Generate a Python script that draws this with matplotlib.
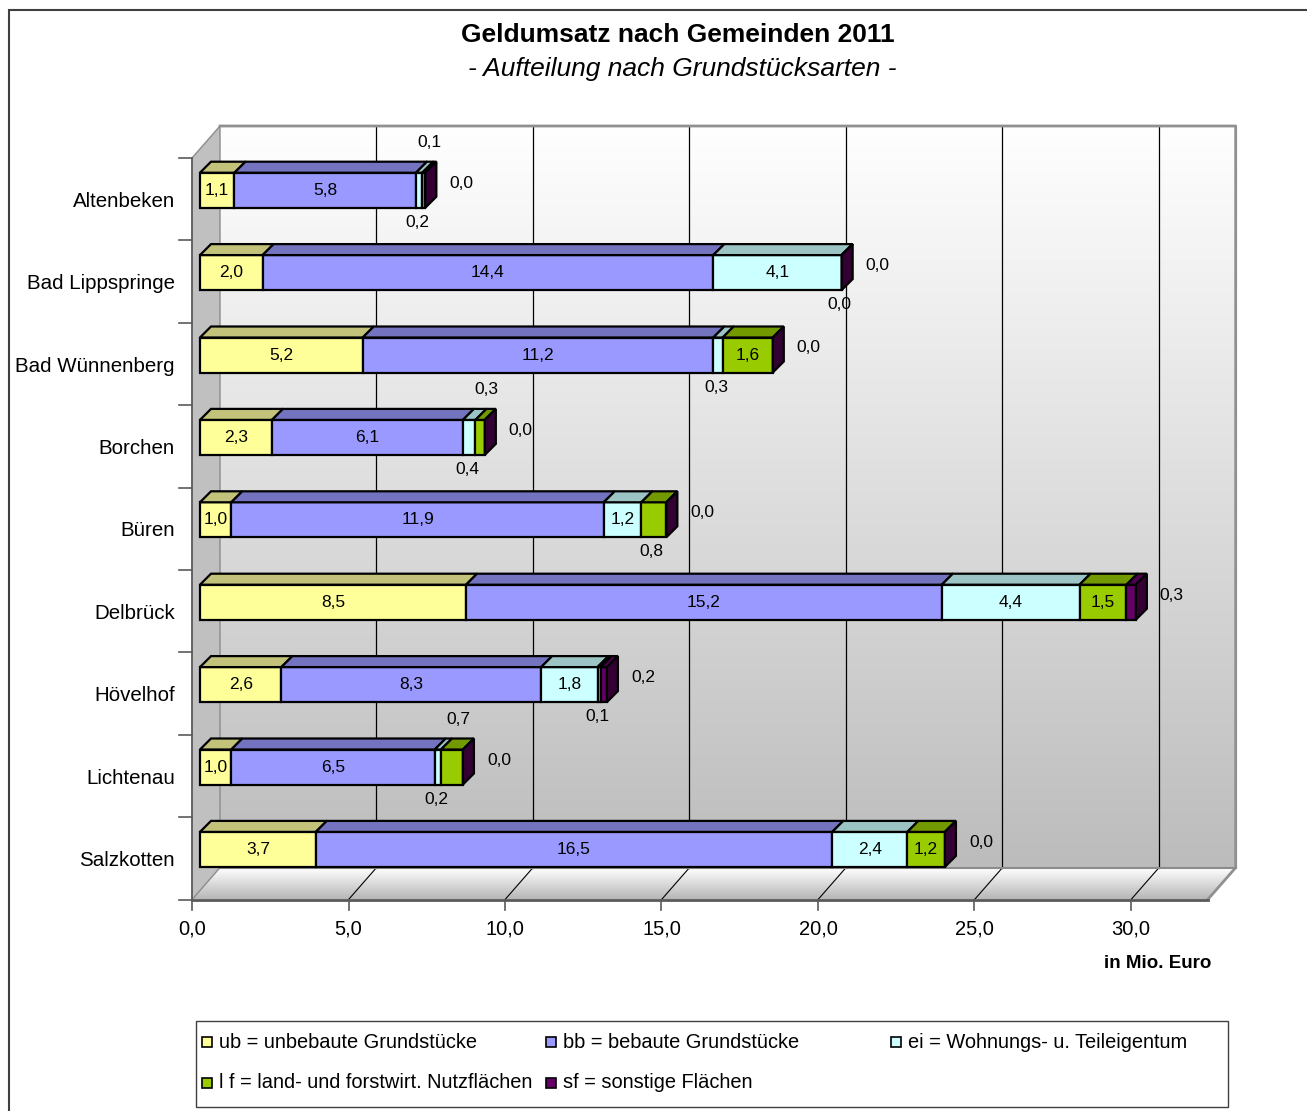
import matplotlib.pyplot as plt
import numpy as np
from matplotlib.colors import LinearSegmentedColormap
from matplotlib.patches import Polygon, Rectangle

plt.rcParams["font.family"] = ["Liberation Sans", "DejaVu Sans"]

# data (Mio. Euro)
gemeinden = ["Altenbeken", "Bad Lippspringe", "Bad Wünnenberg", "Borchen", "Büren",
             "Delbrück", "Hövelhof", "Lichtenau", "Salzkotten"]
ub = [1.1, 2.0, 5.2, 2.3, 1.0, 8.5, 2.6, 1.0, 3.7]
bb = [5.8, 14.4, 11.2, 6.1, 11.9, 15.2, 8.3, 6.5, 16.5]
ei = [0.2, 4.1, 0.3, 0.4, 1.2, 4.4, 1.8, 0.2, 2.4]
lf = [0.1, 0.0, 1.6, 0.3, 0.8, 1.5, 0.1, 0.7, 1.2]
sf = [0.0, 0.0, 0.0, 0.0, 0.0, 0.3, 0.2, 0.0, 0.0]
series_names = ["ub = unbebaute Grundstücke", "bb = bebaute Grundstücke",
                "ei = Wohnungs- u. Teileigentum", "l f = land- und forstwirt. Nutzflächen",
                "sf = sonstige Flächen"]
x_ticks = np.arange(0, 31, 5)

front_colors = ["#FFFF99", "#9999FF", "#CCFFFF", "#99CC00", "#660066"]
top_colors = ["#C2C27A", "#7373BF", "#9CC4C4", "#739900", "#4D004D"]
side_color = "#330033"

W, H = 1307, 1111
fig = plt.figure(figsize=(W / 100, H / 100), dpi=100)
ax = fig.add_axes([0, 0, 1, 1])
ax.axis("off")

# axes scaled so that one data unit is one Mio. Euro / one category
X0, UX = 192, 31.3
Y0, UY = 199.2, 82.4
ax.set_xlim(-X0 / UX, (W - X0) / UX)
ax.set_ylim((H - Y0) / UY, -Y0 / UY)
px, py = 1 / UX, 1 / UY
n = len(gemeinden)
XMAX = 32.45
TOP, BOT = -0.5, n - 0.5
DX, DY = 28 * px, -32 * py

def fmt(v):
    return f"{v:.1f}".replace(".", ",")

# walls and floor
grad = np.linspace(0, 1, 256).reshape(-1, 1)
wall_cmap = LinearSegmentedColormap.from_list("wall", ["#FFFFFF", "#BCBCBC"])
ax.imshow(grad, extent=[DX, XMAX + DX, BOT + DY, TOP + DY], cmap=wall_cmap,
          aspect="auto", zorder=0)
floor = Polygon([(0, BOT), (XMAX, BOT), (XMAX + DX, BOT + DY), (DX, BOT + DY)],
                closed=True, facecolor="none", edgecolor="none")
ax.add_patch(floor)
floor_cmap = LinearSegmentedColormap.from_list("floor", ["#FFFFFF", "#B4B4B4"])
im = ax.imshow(grad, extent=[0, XMAX + DX, BOT, BOT + DY], cmap=floor_cmap,
               aspect="auto", zorder=0)
im.set_clip_path(floor)
ax.add_patch(Polygon([(0, TOP), (0, BOT), (DX, BOT + DY), (DX, TOP + DY)],
                     closed=True, facecolor="#C0C0C0", edgecolor="#8C8C8C", lw=1, zorder=1))

for t in x_ticks[1:]:
    ax.plot([t + DX, t + DX], [BOT + DY, TOP + DY], color="black", lw=0.9, zorder=1)
    ax.plot([t, t + DX], [BOT, BOT + DY], color="black", lw=0.8, zorder=1)

ax.plot([DX, XMAX + DX, XMAX + DX, XMAX], [TOP + DY, TOP + DY, BOT + DY, BOT],
        color="#909090", lw=2, zorder=1)
ax.plot([DX, XMAX + DX], [BOT + DY, BOT + DY], color="#8C8C8C", lw=1.5, zorder=1)
ax.plot([0, XMAX], [BOT, BOT], color="#5A5A5A", lw=2, zorder=2)
ax.plot([0, 0], [TOP, BOT], color="#5A5A5A", lw=1.2, zorder=2)

for k in range(n + 1):
    ax.plot([-13 * px, 0], [TOP + k, TOP + k], color="#5A5A5A", lw=1.2)
for t in x_ticks:
    ax.plot([t, t], [BOT, BOT + 10 * py], color="#5A5A5A", lw=1.2)
    ax.text(t, BOT + 29 * py, fmt(t), ha="center", va="center", fontsize=14.5)
for i, name in enumerate(gemeinden):
    ax.text(-17 * px, i + 2 * py, name, ha="right", va="center", fontsize=14.8)

# bars
BX, BY = 8 * px, -9 * py
BH = 35 * py
BDX, BDY = 11 * px, -11 * py
series = [ub, bb, ei, lf, sf]
left = np.zeros(n)
for s, vals in enumerate(series):
    vals = np.array(vals)
    ax.barh(np.arange(n) + BY, vals, left=left + BX, height=BH,
            color=front_colors[s], edgecolor="black", lw=1.6, zorder=3)
    for i in range(n):
        x0, x1 = left[i] + BX, left[i] + vals[i] + BX
        yt = i + BY - BH / 2
        ax.add_patch(Polygon([(x0, yt), (x1, yt), (x1 + BDX, yt + BDY), (x0 + BDX, yt + BDY)],
                             closed=True, facecolor=top_colors[s], edgecolor="black",
                             lw=1.6, zorder=3))
    left = left + vals

# end faces of the stacks
for i in range(n):
    x1 = left[i] + BX
    yt, yb = i + BY - BH / 2, i + BY + BH / 2
    ax.add_patch(Polygon([(x1, yt), (x1, yb), (x1 + BDX, yb + BDY), (x1 + BDX, yt + BDY)],
                         closed=True, facecolor=side_color, edgecolor="black",
                         lw=1.6, zorder=3))

# value labels
fs = 12.5
left = np.zeros(n)
for s, vals in enumerate(series):
    for i, v in enumerate(vals):
        xc = left[i] + v / 2 + BX
        yc = i + BY
        if s == 4:
            ax.text(left[i] + v + BX + 36 * px, yc - 7 * py, fmt(v),
                    ha="center", va="center", fontsize=fs, zorder=4)
        elif s < 2 or v >= 1.0:
            ax.text(xc, yc, fmt(v), ha="center", va="center", fontsize=fs, zorder=4)
        elif s == 3 and ei[i] < 1.0:
            # small lf next to a small ei: label above the bar
            ax.text(xc + 6 * px, yc - 48 * py, fmt(v), ha="center", va="center",
                    fontsize=fs, zorder=4)
        else:
            ax.text(xc - 2 * px, yc + 32 * py, fmt(v), ha="center", va="center",
                    fontsize=fs, zorder=4)
    left = left + np.array(vals)

# titles
fig.text(678 / W, 1 - 35 / H, "Geldumsatz nach Gemeinden 2011", ha="center", va="center",
         fontsize=19, fontweight="bold")
fig.text(682 / W, 1 - 69 / H, "- Aufteilung nach Grundstücksarten -", ha="center",
         va="center", fontsize=19, fontstyle="italic")
fig.text(1211 / W, 1 - 963 / H, "in Mio. Euro", ha="right", va="center",
         fontsize=13.5, fontweight="bold")

# legend
fig.add_artist(Rectangle((196 / W, 1 - 1107 / H), (1228 - 196) / W, (1107 - 1021) / H,
                         transform=fig.transFigure, fill=False, edgecolor="#404040", lw=1))
legend_pos = [(207, 1042), (551, 1042), (896, 1042), (207, 1083), (551, 1083)]
for (lx, ly), name, col in zip(legend_pos, series_names, front_colors):
    fig.add_artist(Rectangle(((lx - 5) / W, 1 - (ly + 5) / H), 10 / W, 10 / H,
                             transform=fig.transFigure, facecolor=col,
                             edgecolor="black", lw=1.2))
    fig.text((lx + 12) / W, 1 - ly / H, name, ha="left", va="center", fontsize=14.4)

# chart border
fig.add_artist(Rectangle((9 / W, -0.1), 2, 1.1 - 10 / H, transform=fig.transFigure,
                         fill=False, edgecolor="#404040", lw=1.5))

fig.savefig("out.png", dpi=100)
